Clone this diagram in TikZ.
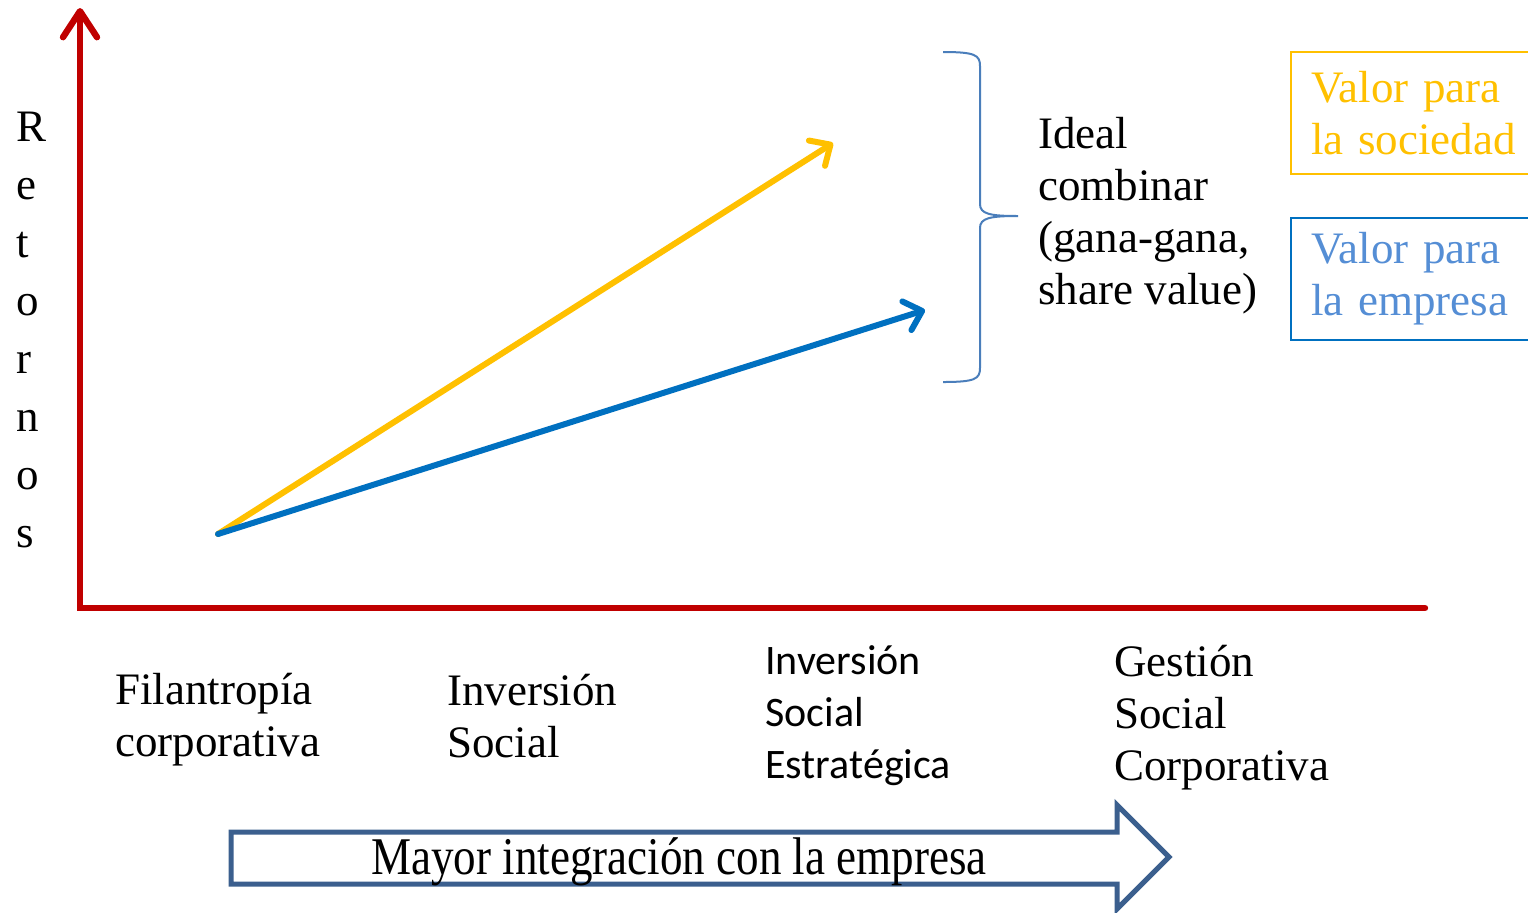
\documentclass[tikz,border=0pt]{standalone}
\usepackage{fontspec}
\setmainfont{Liberation Serif}
\newfontfamily\calibri{Carlito}
\usetikzlibrary{arrows.meta}
\definecolor{axisred}{HTML}{C00000}
\definecolor{socyellow}{HTML}{FFC000}
\definecolor{empblue}{HTML}{0070C0}
\definecolor{emptext}{HTML}{558ED5}
\definecolor{bracecol}{HTML}{4A7EBB}
\definecolor{bandblue}{HTML}{3B5F8E}
\tikzset{lbl/.style = {anchor=north west, inner sep=0pt, align=left, font=\fontsize{22.5}{26}\selectfont}}
\tikzset{vec/.style = {line width=3pt, line cap=round, -{Straight Barb[length=8pt, width=15pt, round]}}}
\tikzset{valbox/.style = {draw, line width=1pt, anchor=north west, minimum height=61pt, text width=125pt, inner xsep=10pt, align=left, font=\fontsize{22.5}{26}\selectfont}}

\begin{document}
\begin{tikzpicture}[x=0.5pt, y=-0.5pt]
      \useasboundingbox (0,0) rectangle (1528,912);
      % axes
      \coordinate (O) at (80,608);
      \coordinate (ytop) at (80,8);
      \coordinate (xend) at (1425,608);
      \draw [axisred, line width=3.2pt, line cap=round, -{Straight Barb[length=13pt, width=17pt, round]}] (xend) -- (O) -- (ytop);
      \foreach \ch [count=\i] in {R,e,t,o,r,n,o,s}
        \node [anchor=base west, inner sep=0pt, font=\fontsize{22.5}{26}\selectfont] (ret\i) at (16, 141+58*\i-58) {\ch};
      % the two vectors
      \coordinate (orig) at (218,534);
      \coordinate (soc) at (833,143);
      \coordinate (emp) at (925,310);
      \draw [vec, socyellow] (orig) -- (soc);
      \draw [vec, empblue] (orig) -- (emp);
      % brace and comment
      \draw [bracecol, line width=1pt] (943,52) .. controls (975,52) and (980,55) .. (980,66)
            -- (980,204) .. controls (980,214) and (990,216) .. (1018,216)
            .. controls (990,216) and (980,218) .. (980,228)
            -- (980,368) .. controls (980,379) and (975,382) .. (943,382);
      \node [lbl] (ideal) at (1038,117) {Ideal\\combinar\\(gana-gana,\\share value)};
      \node [valbox, socyellow] (vsoc) at (1290,51) {Valor para\\la sociedad};
      \node [valbox, empblue, text=emptext] (vemp) at (1290,217) {Valor para\\la empresa};
      % stages
      \node [lbl] (filan) at (115,673) {Filantropía\\corporativa};
      \node [lbl] (inv) at (447,674) {Inversión\\Social};
      \node [lbl, font=\calibri\fontsize{21}{26}\selectfont] (inve) at (765,645) {Inversión\\Social\\Estratégica};
      \node [lbl] (gest) at (1114,645) {Gestión\\Social\\Corporativa};
      % band arrow
      \draw [bandblue, line width=2.5pt, fill=white, line join=miter]
            (231,832) -- (1117,832) -- (1117,805) -- (1169,857) -- (1117,909) -- (1117,884) -- (231,884) -- cycle;
      \node [inner sep=0pt] (mayor) at (679,862) {\scalebox{0.85}[1]{\fontsize{26.5}{30}\selectfont Mayor integración con la empresa}};
    \end{tikzpicture}
\end{document}
